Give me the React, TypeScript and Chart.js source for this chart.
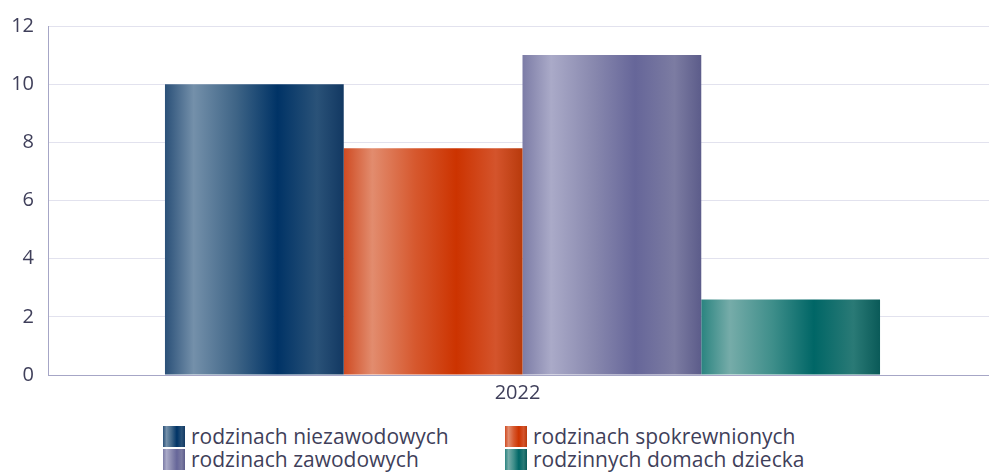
import React, { useEffect, useRef } from "react";
import { Chart, registerables } from "chart.js";

Chart.register(...registerables);

const categories = ["2022"];
const seriesNames = [
  "rodzinach niezawodowych",
  "rodzinach spokrewnionych",
  "rodzinach zawodowych",
  "rodzinnych domach dziecka",
];
const seriesValues = [[10], [7.8], [11], [2.6]];
const yTicks = [0, 2, 4, 6, 8, 10, 12];

const gradientStops: string[][] = [
  ["#2a5078", "#7490aa", "#3e6486", "#003366", "#2a5278", "#123862"],
  ["#cf4b22", "#e28c6e", "#d6582e", "#cc3300", "#d4542c", "#b83a0c"],
  ["#7c7ca6", "#aaaac8", "#8888ae", "#666699", "#7c7ca2", "#5c5c8a"],
  ["#2a8480", "#76aca9", "#3e8e8a", "#006666", "#2a7a76", "#0a5a58"],
];
const stopPos = [0, 0.16, 0.4, 0.63, 0.85, 1];

const FONT = "'Open Sans', 'Noto Sans', sans-serif";
const TEXT = "#3f3f5a";

function cssGradient(i: number) {
  return (
    "linear-gradient(to right, " +
    gradientStops[i].map((c, k) => `${c} ${stopPos[k] * 100}%`).join(", ") +
    ")"
  );
}

export default function App() {
  const ref = useRef<HTMLCanvasElement | null>(null);

  useEffect(() => {
    document.body.style.margin = "0";
    const canvas = ref.current!;
    const chart = new Chart(canvas, {
      type: "bar",
      data: {
        labels: categories,
        datasets: seriesNames.map((name, i) => ({
          label: name,
          data: seriesValues[i],
          borderWidth: 0,
          categoryPercentage: 0.7535,
          barPercentage: 1,
          backgroundColor: (ctx: any) => {
            const el = ctx.element;
            const c = ctx.chart.ctx;
            if (!el || !isFinite(el.x) || !isFinite(el.width)) return gradientStops[i][3];
            const g = c.createLinearGradient(el.x - el.width / 2, 0, el.x + el.width / 2, 0);
            gradientStops[i].forEach((col, k) => g.addColorStop(stopPos[k], col));
            return g;
          },
        })),
      },
      options: {
        animation: false,
        responsive: true,
        maintainAspectRatio: false,
        layout: { padding: { top: 24, left: 0, right: 0, bottom: 0 } },
        plugins: { legend: { display: false }, tooltip: { enabled: false } },
        scales: {
          x: {
            grid: { display: false, drawTicks: false },
            border: { color: "#a6a6c6", width: 1 },
            ticks: { color: TEXT, font: { family: FONT, size: 20 }, padding: 6, labelOffset: -5 },
            afterFit: (s: any) => {
              s.height = 35;
            },
          },
          y: {
            min: 0,
            max: 12,
            afterBuildTicks: (s: any) => {
              s.ticks = yTicks.map((v) => ({ value: v }));
            },
            grid: { color: "#e2e2ee", drawTicks: false },
            border: { color: "#a6a6c6", width: 1 },
            ticks: { color: TEXT, font: { family: FONT, size: 20 }, padding: 14 },
            afterFit: (s: any) => {
              s.width = 48;
            },
          },
        },
      },
    });
    chart.update();
    return () => chart.destroy();
  }, []);

  const legendItem = (i: number, left: number, top: number) => (
    <div
      key={i}
      style={{
        position: "absolute",
        left,
        top,
        display: "flex",
        alignItems: "center",
        height: 21,
      }}
    >
      <div style={{ width: 22, height: 21, background: cssGradient(i), flex: "none" }} />
      <span
        style={{
          marginLeft: 6,
          fontFamily: FONT,
          fontSize: 21,
          color: TEXT,
          lineHeight: "21px",
          whiteSpace: "nowrap",
        }}
      >
        {seriesNames[i]}
      </span>
    </div>
  );

  return (
    <div
      style={{
        position: "relative",
        width: 989,
        height: 475,
        overflow: "hidden",
        background: "#ffffff",
      }}
    >
      <div style={{ position: "absolute", left: 0, top: 0, width: 997, height: 410 }}>
        <canvas ref={ref} />
      </div>
      {legendItem(0, 163, 426)}
      {legendItem(1, 505, 426)}
      {legendItem(2, 163, 449)}
      {legendItem(3, 505, 449)}
    </div>
  );
}
